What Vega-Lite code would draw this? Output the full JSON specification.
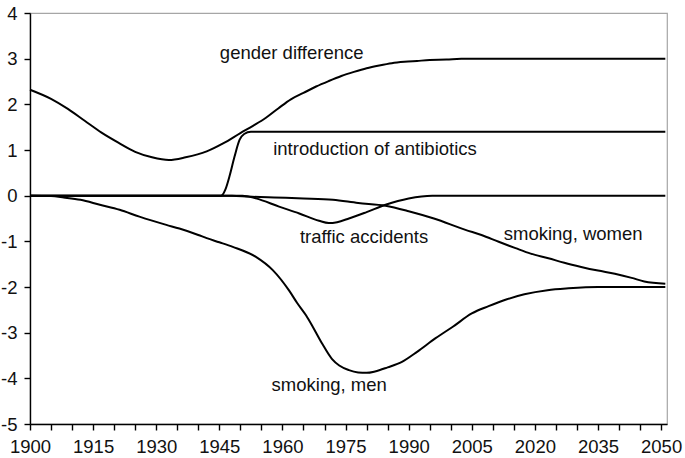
{
  "$schema": "https://vega.github.io/schema/vega-lite/v6.json",
  "autosize": "none",
  "width": 637,
  "height": 411,
  "padding": {"left": 30, "top": 13, "right": 18, "bottom": 34},
  "background": "white",
  "config": {
    "view": {"stroke": "#a6a6a6", "strokeWidth": 1.2},
    "font": "Liberation Sans",
    "axis": {
      "grid": false,
      "domainColor": "#000000",
      "domainWidth": 1.4,
      "tickColor": "#000000",
      "tickWidth": 1.4,
      "tickSize": 6,
      "labelFont": "Liberation Sans",
      "labelFontSize": 18.5,
      "labelColor": "#111111",
      "labelOverlap": false,
      "labelBound": false,
      "title": null
    }
  },
  "datasets": {
    "series": [
      {"series": "gender difference", "year": 1900, "value": 2.32},
      {"series": "gender difference", "year": 1905, "value": 2.12},
      {"series": "gender difference", "year": 1909, "value": 1.9},
      {"series": "gender difference", "year": 1913, "value": 1.64},
      {"series": "gender difference", "year": 1917, "value": 1.38},
      {"series": "gender difference", "year": 1921, "value": 1.16},
      {"series": "gender difference", "year": 1925, "value": 0.96},
      {"series": "gender difference", "year": 1929, "value": 0.84},
      {"series": "gender difference", "year": 1933, "value": 0.78},
      {"series": "gender difference", "year": 1937, "value": 0.84},
      {"series": "gender difference", "year": 1942, "value": 0.97},
      {"series": "gender difference", "year": 1946, "value": 1.15},
      {"series": "gender difference", "year": 1950, "value": 1.37},
      {"series": "gender difference", "year": 1953, "value": 1.53},
      {"series": "gender difference", "year": 1956, "value": 1.7},
      {"series": "gender difference", "year": 1959, "value": 1.91},
      {"series": "gender difference", "year": 1962, "value": 2.11},
      {"series": "gender difference", "year": 1965, "value": 2.25},
      {"series": "gender difference", "year": 1968, "value": 2.39},
      {"series": "gender difference", "year": 1971, "value": 2.51},
      {"series": "gender difference", "year": 1974, "value": 2.62},
      {"series": "gender difference", "year": 1977, "value": 2.71},
      {"series": "gender difference", "year": 1980, "value": 2.79},
      {"series": "gender difference", "year": 1983, "value": 2.85},
      {"series": "gender difference", "year": 1986, "value": 2.9},
      {"series": "gender difference", "year": 1989, "value": 2.93},
      {"series": "gender difference", "year": 1992, "value": 2.95},
      {"series": "gender difference", "year": 1995, "value": 2.97},
      {"series": "gender difference", "year": 1999, "value": 2.98},
      {"series": "gender difference", "year": 2002.5, "value": 3.0},
      {"series": "gender difference", "year": 2051, "value": 3.0},

      {"series": "introduction of antibiotics", "year": 1900, "value": 0},
      {"series": "introduction of antibiotics", "year": 1945.4, "value": 0},
      {"series": "introduction of antibiotics", "year": 1946.5, "value": 0.15},
      {"series": "introduction of antibiotics", "year": 1947.4, "value": 0.42},
      {"series": "introduction of antibiotics", "year": 1948.6, "value": 0.85},
      {"series": "introduction of antibiotics", "year": 1949.8, "value": 1.22},
      {"series": "introduction of antibiotics", "year": 1950.9, "value": 1.35},
      {"series": "introduction of antibiotics", "year": 1952.5, "value": 1.4},
      {"series": "introduction of antibiotics", "year": 2051, "value": 1.4},

      {"series": "traffic accidents", "year": 1900, "value": 0},
      {"series": "traffic accidents", "year": 1950.5, "value": 0},
      {"series": "traffic accidents", "year": 1953.7, "value": -0.06},
      {"series": "traffic accidents", "year": 1959.2, "value": -0.24},
      {"series": "traffic accidents", "year": 1964, "value": -0.39},
      {"series": "traffic accidents", "year": 1968.7, "value": -0.55},
      {"series": "traffic accidents", "year": 1971, "value": -0.6},
      {"series": "traffic accidents", "year": 1973, "value": -0.58},
      {"series": "traffic accidents", "year": 1975.8, "value": -0.5},
      {"series": "traffic accidents", "year": 1980, "value": -0.36},
      {"series": "traffic accidents", "year": 1984.5, "value": -0.2},
      {"series": "traffic accidents", "year": 1990, "value": -0.06},
      {"series": "traffic accidents", "year": 1995.6, "value": 0},
      {"series": "traffic accidents", "year": 2051, "value": 0},

      {"series": "smoking, women", "year": 1900, "value": 0},
      {"series": "smoking, women", "year": 1948, "value": 0},
      {"series": "smoking, women", "year": 1952, "value": -0.02},
      {"series": "smoking, women", "year": 1958, "value": -0.04},
      {"series": "smoking, women", "year": 1965, "value": -0.06},
      {"series": "smoking, women", "year": 1972, "value": -0.09},
      {"series": "smoking, women", "year": 1978, "value": -0.16},
      {"series": "smoking, women", "year": 1984.5, "value": -0.22},
      {"series": "smoking, women", "year": 1990, "value": -0.34},
      {"series": "smoking, women", "year": 1996, "value": -0.5},
      {"series": "smoking, women", "year": 2003.5, "value": -0.75},
      {"series": "smoking, women", "year": 2007.3, "value": -0.86},
      {"series": "smoking, women", "year": 2011.4, "value": -1.01},
      {"series": "smoking, women", "year": 2015.4, "value": -1.15},
      {"series": "smoking, women", "year": 2019, "value": -1.27},
      {"series": "smoking, women", "year": 2023.2, "value": -1.37},
      {"series": "smoking, women", "year": 2027, "value": -1.47},
      {"series": "smoking, women", "year": 2031, "value": -1.56},
      {"series": "smoking, women", "year": 2035, "value": -1.64},
      {"series": "smoking, women", "year": 2039, "value": -1.71},
      {"series": "smoking, women", "year": 2043, "value": -1.8},
      {"series": "smoking, women", "year": 2046, "value": -1.88},
      {"series": "smoking, women", "year": 2051, "value": -1.93},

      {"series": "smoking, men", "year": 1900, "value": 0},
      {"series": "smoking, men", "year": 1905, "value": -0.01},
      {"series": "smoking, men", "year": 1908, "value": -0.04},
      {"series": "smoking, men", "year": 1912, "value": -0.09},
      {"series": "smoking, men", "year": 1916.6, "value": -0.2},
      {"series": "smoking, men", "year": 1921.3, "value": -0.31},
      {"series": "smoking, men", "year": 1926, "value": -0.46},
      {"series": "smoking, men", "year": 1932.4, "value": -0.64},
      {"series": "smoking, men", "year": 1935.5, "value": -0.72},
      {"series": "smoking, men", "year": 1940, "value": -0.86},
      {"series": "smoking, men", "year": 1942, "value": -0.93},
      {"series": "smoking, men", "year": 1945, "value": -1.02},
      {"series": "smoking, men", "year": 1948.2, "value": -1.12},
      {"series": "smoking, men", "year": 1953.7, "value": -1.34},
      {"series": "smoking, men", "year": 1957.7, "value": -1.63},
      {"series": "smoking, men", "year": 1961.6, "value": -2.08},
      {"series": "smoking, men", "year": 1963.5, "value": -2.35},
      {"series": "smoking, men", "year": 1965.6, "value": -2.62},
      {"series": "smoking, men", "year": 1967.2, "value": -2.87},
      {"series": "smoking, men", "year": 1969.5, "value": -3.25},
      {"series": "smoking, men", "year": 1971.8, "value": -3.58},
      {"series": "smoking, men", "year": 1973.5, "value": -3.72},
      {"series": "smoking, men", "year": 1975.8, "value": -3.82},
      {"series": "smoking, men", "year": 1978, "value": -3.87},
      {"series": "smoking, men", "year": 1980, "value": -3.88},
      {"series": "smoking, men", "year": 1982, "value": -3.85},
      {"series": "smoking, men", "year": 1985, "value": -3.76},
      {"series": "smoking, men", "year": 1988.4, "value": -3.64},
      {"series": "smoking, men", "year": 1992, "value": -3.42},
      {"series": "smoking, men", "year": 1996.4, "value": -3.12},
      {"series": "smoking, men", "year": 2000.5, "value": -2.87},
      {"series": "smoking, men", "year": 2005, "value": -2.58},
      {"series": "smoking, men", "year": 2009, "value": -2.42},
      {"series": "smoking, men", "year": 2013, "value": -2.28},
      {"series": "smoking, men", "year": 2017.5, "value": -2.16},
      {"series": "smoking, men", "year": 2023, "value": -2.07},
      {"series": "smoking, men", "year": 2028, "value": -2.03},
      {"series": "smoking, men", "year": 2035, "value": -2.0},
      {"series": "smoking, men", "year": 2051, "value": -2.0}
    ],
    "labels": [
      {"label": "gender difference", "year": 1962.2, "value": 2.99},
      {"label": "introduction of antibiotics", "year": 1982.0, "value": 0.89},
      {"label": "traffic accidents", "year": 1979.4, "value": -1.03},
      {"label": "smoking, women", "year": 2029.1, "value": -0.97},
      {"label": "smoking, men", "year": 1971.1, "value": -4.27}
    ]
  },
  "encoding": {
    "x": {
      "field": "year",
      "type": "quantitative",
      "scale": {"domain": [1900, 2051.4], "nice": false, "zero": false},
      "axis": {
        "values": [1900,1905,1910,1915,1920,1925,1930,1935,1940,1945,1950,1955,1960,1965,1970,1975,1980,1985,1990,1995,2000,2005,2010,2015,2020,2025,2030,2035,2040,2045,2050],
        "labelExpr": "(datum.value - 1900) % 15 == 0 ? toString(datum.value) : ''",
        "labelPadding": 7,
        "labelFlush": false,
        "labelOverlap": false
      }
    },
    "y": {
      "field": "value",
      "type": "quantitative",
      "scale": {"domain": [-5, 4], "nice": false},
      "axis": {
        "values": [-5,-4,-3,-2,-1,0,1,2,3,4],
        "labelExpr": "toString(datum.value)",
        "labelPadding": 7,
        "labelFlush": false
      }
    }
  },
  "layer": [
    {
      "data": {"name": "series"},
      "mark": {"type": "line", "color": "#000000", "strokeWidth": 2, "interpolate": "monotone"},
      "encoding": {
        "detail": {"field": "series"}
      }
    },
    {
      "data": {"name": "labels"},
      "mark": {"type": "text", "font": "Liberation Sans", "fontSize": 18.5, "color": "#111111", "align": "center", "baseline": "alphabetic"},
      "encoding": {
        "text": {"field": "label"}
      }
    }
  ]
}
